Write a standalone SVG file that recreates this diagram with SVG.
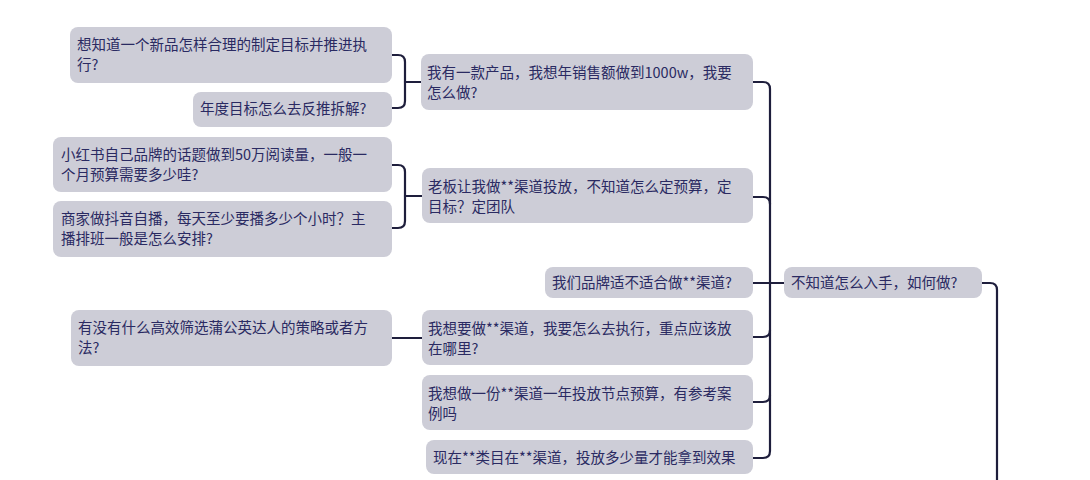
<svg xmlns="http://www.w3.org/2000/svg" width="1090" height="480" viewBox="0 0 1090 480">
<style>
.box{fill:#cdcdd7;}
.t{font-family:"Noto Sans CJK SC","Noto Sans",sans-serif;font-size:14.5px;fill:#2a2a62;}
.c{fill:none;stroke:#1e1e3c;stroke-width:2.2;stroke-linecap:round;stroke-linejoin:round;}
</style>
<rect width="1090" height="480" fill="#ffffff"/>
<g id="connectors">
<path class="c" d="M392,55 H398 Q405,55 405,62 V101 Q405,108 398,108 H392"/>
<path class="c" d="M405,82 H421"/>
<path class="c" d="M392,165 H398 Q405,165 405,172 V221 Q405,228 398,228 H392"/>
<path class="c" d="M405,196 H422"/>
<path class="c" d="M392,338 H422"/>
<path class="c" d="M753,82 H763 Q770,82 770,89 V451 Q770,458 763,458 H753"/>
<path class="c" d="M753,197 H763 Q770,197 770,204"/>
<path class="c" d="M753,283 H784"/>
<path class="c" d="M753,337 H763 Q770,337 770,330"/>
<path class="c" d="M753,402 H763 Q770,402 770,395"/>
<path class="c" d="M982,283 H990 Q997,283 997,290 V480"/>
</g>
<g id="n1"><rect class="box" x="70" y="27" width="322" height="56" rx="8"/><text class="t" x="77" y="50">想知道一个新品怎样合理的制定目标并推进执</text><text class="t" x="77" y="70">行?</text></g>
<g id="n2"><rect class="box" x="193" y="92" width="199" height="35" rx="8"/><text class="t" x="200" y="114">年度目标怎么去反推拆解?</text></g>
<g id="n3"><rect class="box" x="421" y="54" width="332" height="56" rx="8"/><text class="t" x="427" y="78">我有一款产品，我想年销售额做到1000w，我要</text><text class="t" x="427" y="98">怎么做?</text></g>
<g id="n4"><rect class="box" x="53" y="137" width="339" height="55" rx="8"/><text class="t" x="61" y="160">小红书自己品牌的话题做到50万阅读量，一般一</text><text class="t" x="61" y="180">个月预算需要多少哇?</text></g>
<g id="n5"><rect class="box" x="53" y="201" width="339" height="56" rx="8"/><text class="t" x="61" y="224">商家做抖音自播，每天至少要播多少个小时？主</text><text class="t" x="61" y="244">播排班一般是怎么安排?</text></g>
<g id="n6"><rect class="box" x="422" y="168" width="331" height="55" rx="8"/><text class="t" x="428" y="192">老板让我做**渠道投放，不知道怎么定预算，定</text><text class="t" x="428" y="212">目标？定团队</text></g>
<g id="n7"><rect class="box" x="545" y="267" width="208" height="31" rx="8"/><text class="t" x="552" y="288">我们品牌适不适合做**渠道?</text></g>
<g id="n8"><rect class="box" x="784" y="267" width="198" height="31" rx="8"/><text class="t" x="791" y="288">不知道怎么入手，如何做?</text></g>
<g id="n9"><rect class="box" x="71" y="310" width="321" height="56" rx="8"/><text class="t" x="78" y="333">有没有什么高效筛选蒲公英达人的策略或者方</text><text class="t" x="78" y="353">法?</text></g>
<g id="n10"><rect class="box" x="422" y="310" width="331" height="55" rx="8"/><text class="t" x="428" y="334">我想要做**渠道，我要怎么去执行，重点应该放</text><text class="t" x="428" y="354">在哪里?</text></g>
<g id="n11"><rect class="box" x="422" y="375" width="331" height="55" rx="8"/><text class="t" x="428" y="399">我想做一份**渠道一年投放节点预算，有参考案</text><text class="t" x="428" y="419">例吗</text></g>
<g id="n12"><rect class="box" x="426" y="440" width="327" height="34" rx="8"/><text class="t" x="433" y="463">现在**类目在**渠道，投放多少量才能拿到效果</text></g>
</svg>
